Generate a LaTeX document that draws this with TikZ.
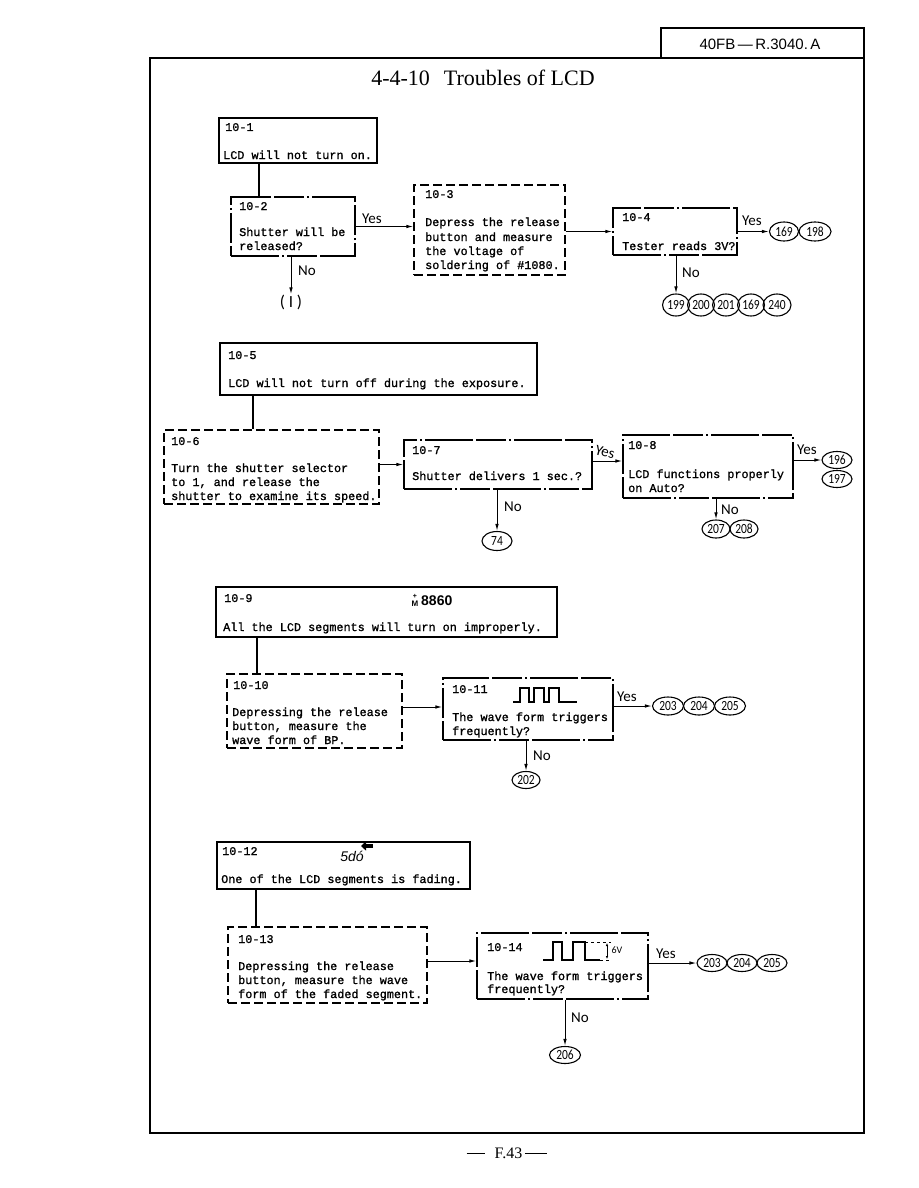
\documentclass[tikz,border=0pt]{standalone}
\usepackage{fontspec}
\setmainfont{Liberation Serif}
\newfontfamily\boxfont{Liberation Mono}[FakeBold=1.2]
\newfontfamily\handfont{Carlito}
\newfontfamily\numfont{Carlito}[FakeStretch=0.82]
\newfontfamily\hdrfont{Liberation Sans}
\usetikzlibrary{arrows.meta,shapes.geometric,fit}
\tikzset{
  solidbox/.style={draw, line width=1.3pt, inner sep=0pt},
  dashbox/.style={draw, line width=1.2pt, inner sep=0pt, dash pattern=on 9pt off 4pt},
  mixbox/.style={draw, line width=1.2pt, inner sep=0pt, dash pattern=on 48pt off 3pt on 2pt off 3pt on 30pt off 3pt},
  bt/.style={anchor=west, inner sep=0pt, text height=8pt, text depth=2pt, font=\boxfont\fontsize{11.8}{12}\selectfont},
  lbl/.style={inner sep=0pt, font=\handfont\fontsize{15}{15}\selectfont},
  refo/.style={ellipse, draw, line width=1.1pt, inner sep=0pt, minimum width=29pt, minimum height=19pt, font=\numfont\fontsize{14}{14}\selectfont},
  arr/.style={line width=1pt, -{Latex[length=7pt,width=3.5pt]}},
  conn/.style={line width=1.2pt},
}
\begin{document}
\begin{tikzpicture}[x=1pt,y=-1pt]
\useasboundingbox (0,0) rectangle (918,1188);
% header and frame
\node[draw, line width=1.1pt, fit={(661,28) (864,58)}, inner sep=0pt] (hdr) {};
\node[font=\hdrfont\fontsize{15}{15}\selectfont, inner sep=0pt] (hdrt) at (760,44) {40FB\,—\,R.3040.\,A};
\node[draw, line width=1.2pt, fit={(150,58) (864,1133)}, inner sep=0pt] (frame) {};
\node[font=\fontsize{22}{22}\selectfont, inner sep=0pt] (title) at (483,78) {4-4-10\hspace{14pt}Troubles of LCD};
\node[font=\fontsize{16}{16}\selectfont, inner sep=0pt] (foot) at (507,1153) {\rule[4pt]{18pt}{1.2pt}\hspace{10pt}F.43\hspace{3pt}\rule[4pt]{22pt}{1.2pt}};

% ---------- group 1 ----------
\node[solidbox, fit={(219,118) (377,163)}] (b1) {};
\node[bt] (b1a) at (225,128) {10-1};
\node[bt] (b1b) at (223,156) {LCD will not turn on.};
\node[mixbox, fit={(231,197) (355,256)}] (b2) {};
\node[bt] (b2a) at (239,207) {10-2};
\node[bt] (b2b) at (239,233) {Shutter will be};
\node[bt] (b2c) at (239,247) {released?};
\coordinate (c12) at (259,0);
\draw[conn] (b1.south -| c12) -- (b2.north -| c12);
\node[dashbox, fit={(414,185) (565,275)}] (b3) {};
\node[bt] (b3a) at (425,195) {10-3};
\node[bt] (b3b) at (425,223) {Depress the release};
\node[bt] (b3c) at (425,238) {button and measure};
\node[bt] (b3d) at (425,252) {the voltage of};
\node[bt] (b3e) at (425,266) {soldering of \#1080.};
\draw[arr] (b2.east) -- (b2.east -| b3.west);
\node[lbl] (y2) at (372,219) {Yes};
\node[lbl, font=\handfont\fontsize{17}{17}\selectfont] (n1) at (291,302) {( I )};
\draw[arr] (n1.north |- b2.south) -- (n1.north);
\node[lbl] (no2) at (307,271) {No};
\node[mixbox, fit={(613,208) (737,255)}] (b4) {};
\node[bt] (b4a) at (622,218) {10-4};
\node[bt] (b4b) at (622,247) {Tester reads 3V?};
\draw[arr] (b3.east |- b4.west) -- (b4.west);
\node[refo] (e169a) at (784,231.5) {169};
\node[refo, minimum width=32pt] (e198) at (815,231.5) {198};
\draw[arr] (b4.east) -- (e169a.west);
\node[lbl] (y4) at (752,221) {Yes};
\node[refo, minimum width=27pt, minimum height=22pt] (e199) at (676,305) {199};
\node[refo, minimum width=27pt, minimum height=22pt] (e200) at (701,305) {200};
\node[refo, minimum width=27pt, minimum height=22pt] (e201) at (726,305) {201};
\node[refo, minimum width=27pt, minimum height=22pt] (e169b) at (751,305) {169};
\node[refo, minimum width=28pt, minimum height=22pt] (e240) at (777,305) {240};
\draw[arr] (e199.north |- b4.south) -- (e199.north);
\node[lbl] (no4) at (691,273) {No};

% ---------- group 2 ----------
\node[solidbox, fit={(220,343) (537,395)}] (b5) {};
\node[bt] (b5a) at (228,356) {10-5};
\node[bt] (b5b) at (228,384) {LCD will not turn off during the exposure.};
\node[dashbox, fit={(164,430) (379,504)}] (b6) {};
\node[bt] (b6a) at (171,442) {10-6};
\node[bt] (b6b) at (171,469) {Turn the shutter selector};
\node[bt] (b6c) at (171,483) {to 1, and release the};
\node[bt] (b6d) at (171,497) {shutter to examine its speed.};
\coordinate (c56) at (253,0);
\draw[conn] (b5.south -| c56) -- (b6.north -| c56);
\node[mixbox, fit={(404,440) (592,489)}] (b7) {};
\node[bt] (b7a) at (412,451) {10-7};
\node[bt] (b7b) at (412,477) {Shutter delivers 1 sec.?};
\draw[arr] (b6.east |- b7.west) -- (b7.west);
\node[mixbox, fit={(623,435) (793,498)}] (b8) {};
\node[bt] (b8a) at (628,446) {10-8};
\node[bt] (b8b) at (628,475) {LCD functions properly};
\node[bt] (b8c) at (628,489) {on Auto?};
\draw[arr] (b7.east |- 0,461) -- (b8.west |- 0,461);
\node[lbl, rotate=-15] (y7) at (605,452) {Yes};
\node[refo, minimum width=30pt] (e74) at (497,541) {74};
\draw[arr] (e74.north |- b7.south) -- (e74.north);
\node[lbl] (no7) at (513,507) {No};
\node[refo, minimum width=30pt, minimum height=17pt] (e196) at (837,460) {196};
\node[refo, minimum width=30pt, minimum height=17pt] (e197) at (837,479) {197};
\draw[arr] (e196.west -| b8.east) -- (e196.west);
\node[lbl] (y8) at (807,450) {Yes};
\node[refo, minimum width=28pt, minimum height=18pt] (e207) at (716,529) {207};
\node[refo, minimum width=28pt, minimum height=18pt] (e208) at (744,529) {208};
\draw[arr] (e207.north |- b8.south) -- (e207.north);
\node[lbl] (no8) at (730,510) {No};

% ---------- group 3 ----------
\node[solidbox, fit={(216,587) (557,637)}] (b9) {};
\node[bt] (b9a) at (224,599) {10-9};
\node[inner sep=0pt, font=\hdrfont\bfseries\fontsize{7}{7}\selectfont] (g9p) at (415,596) {+};
\node[inner sep=0pt, font=\hdrfont\bfseries\fontsize{8}{8}\selectfont] (g9m) at (415,604) {M};
\node[anchor=west, inner sep=0pt, font=\hdrfont\bfseries\fontsize{14}{14}\selectfont] (g9d) at (421,601) {8860};
\node[bt] (b9b) at (223,628) {All the LCD segments will turn on improperly.};
\node[dashbox, fit={(227,674) (402,748)}] (b10) {};
\node[bt] (b10a) at (233,686) {10-10};
\node[bt] (b10b) at (232,713) {Depressing the release};
\node[bt] (b10c) at (232,727) {button, measure the};
\node[bt] (b10d) at (232,741) {wave form of BP.};
\coordinate (c910) at (257,0);
\draw[conn] (b9.south -| c910) -- (b10.north -| c910);
\node[mixbox, fit={(443,678) (613,740)}] (b11) {};
\node[bt] (b11a) at (452,690) {10-11};
\draw[line width=1.3pt] (513,702) -- (520,702) -- (520,688) -- (529,688) -- (529,702) -- (534,702) -- (534,688) -- (544,688) -- (544,702) -- (549,702) -- (549,688) -- (559,688) -- (559,702) -- (577,702);
\node[bt] (b11b) at (452,718) {The wave form triggers};
\node[bt] (b11c) at (452,732) {frequently?};
\draw[arr] (b10.east |- 0,707) -- (b11.west |- 0,707);
\node[refo, minimum width=31pt, minimum height=18pt] (e203a) at (668,706) {203};
\node[refo, minimum width=31pt, minimum height=18pt] (e204a) at (699,706) {204};
\node[refo, minimum width=31pt, minimum height=18pt] (e205a) at (730,706) {205};
\draw[arr] (e203a.west -| b11.east) -- (e203a.west);
\node[lbl] (y11) at (627,697) {Yes};
\node[refo, minimum width=28pt, minimum height=17pt] (e202) at (526,780) {202};
\draw[arr] (e202.north |- b11.south) -- (e202.north);
\node[lbl] (no11) at (542,756) {No};

% ---------- group 4 ----------
\node[solidbox, fit={(217,842) (470,889)}] (b12) {};
\node[bt] (b12a) at (222,852) {10-12};
\node[inner sep=0pt, font=\hdrfont\itshape\fontsize{14}{14}\selectfont] (g12) at (352,856) {5dó};
\draw[line width=3.2pt, -{Triangle[length=5pt,width=9pt]}] (373,846) -- (361,846);
\node[bt] (b12b) at (221,880) {One of the LCD segments is fading.};
\node[dashbox, fit={(228,927) (427,1003)}] (b13) {};
\node[bt] (b13a) at (238,940) {10-13};
\node[bt] (b13b) at (238,967) {Depressing the release};
\node[bt] (b13c) at (238,981) {button, measure the wave};
\node[bt] (b13d) at (238,995) {form of the faded segment.};
\coordinate (c1213) at (256,0);
\draw[conn] (b12.south -| c1213) -- (b13.north -| c1213);
\node[mixbox, fit={(477,933) (648,999)}] (b14) {};
\node[bt] (b14a) at (487,948) {10-14};
\draw[line width=1.3pt] (543,960) -- (553,960) -- (553,942) -- (562,942) -- (562,960) -- (573,960) -- (573,942) -- (585,942) -- (585,960) -- (600,960);
\draw[line width=0.8pt, dashed] (585,942) -- (611,942);
\draw[line width=0.8pt, dashed] (600,960) -- (611,960);
\draw[line width=0.7pt, -{Latex[length=3pt,width=2.5pt]}] (607,951) -- (607,943);
\draw[line width=0.7pt, -{Latex[length=3pt,width=2.5pt]}] (607,951) -- (607,959);
\node[inner sep=0pt, font=\handfont\fontsize{10}{10}\selectfont] (v6) at (617,950) {6V};
\node[bt] (b14b) at (487,977) {The wave form triggers};
\node[bt] (b14c) at (487,990) {frequently?};
\draw[arr] (b13.east |- 0,961) -- (b14.west |- 0,961);
\node[refo, minimum width=30pt, minimum height=17pt] (e203b) at (712,963) {203};
\node[refo, minimum width=30pt, minimum height=17pt] (e204b) at (742,963) {204};
\node[refo, minimum width=30pt, minimum height=17pt] (e205b) at (772,963) {205};
\draw[arr] (e203b.west -| b14.east) -- (e203b.west);
\node[lbl] (y14) at (666,954) {Yes};
\node[refo, minimum width=31pt, minimum height=17pt] (e206) at (565,1055) {206};
\draw[arr] (e206.north |- b14.south) -- (e206.north);
\node[lbl] (no14) at (580,1018) {No};
\end{tikzpicture}
\end{document}
